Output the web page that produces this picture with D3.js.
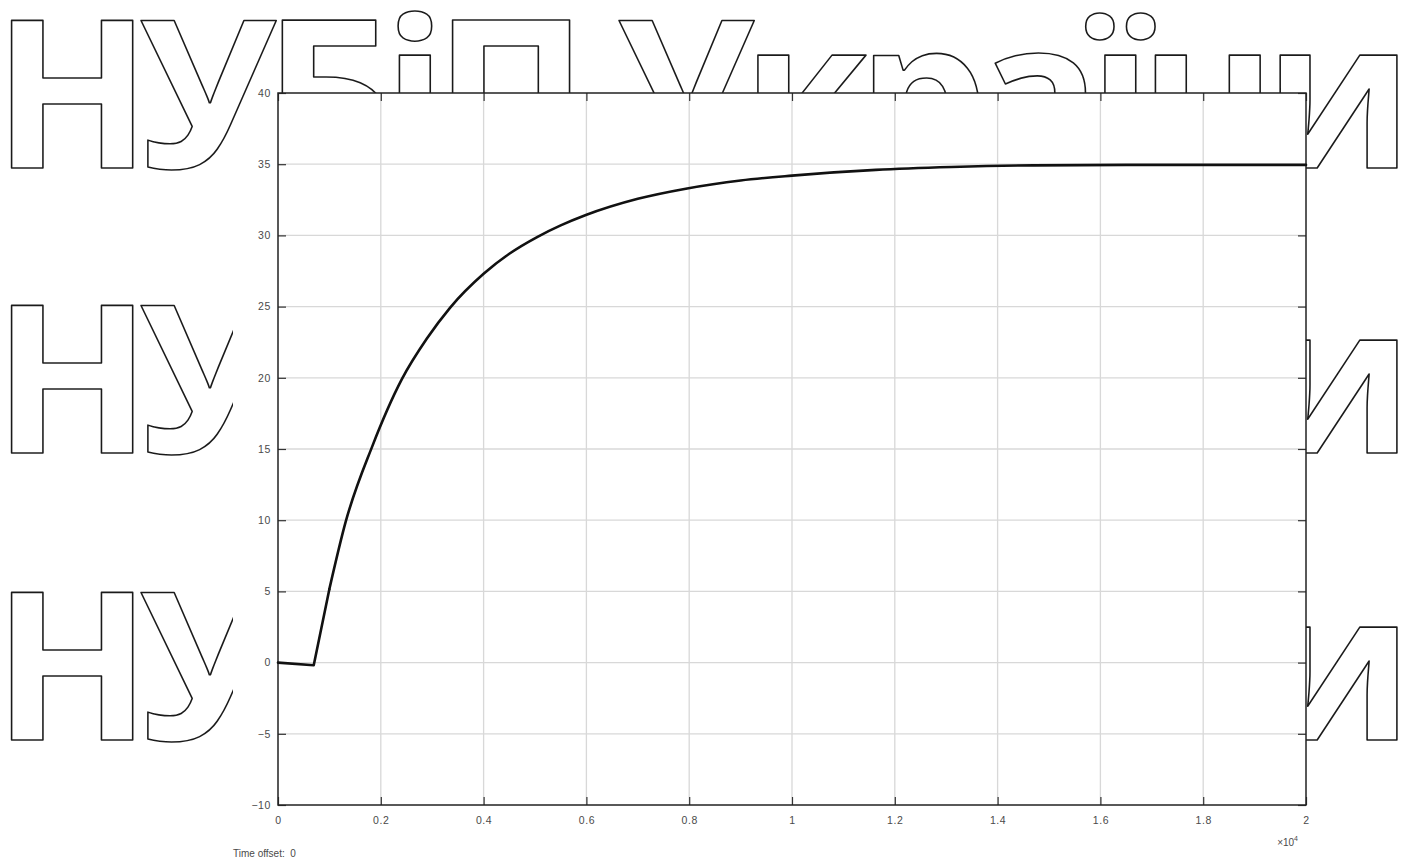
<!DOCTYPE html>
<html>
<head>
<meta charset="utf-8">
<script src="https://cdn.jsdelivr.net/npm/d3@7"></script>
<style>
  body { margin: 0; background: #fff; }
  svg { display: block; }
</style>
</head>
<body>
<div id="chart"></div>
<script>
// час, x10^4 с
const timeX = [0, 0.0695, 0.0998, 0.132, 0.183, 0.241, 0.29, 0.335, 0.4, 0.45, 0.505, 0.55, 0.599, 0.7, 0.796, 0.9, 1.0, 1.163, 1.31, 1.47, 1.65, 1.82, 2.0];
// відгук
const response = [0, -0.19, 5.14, 9.93, 15.15, 19.9, 22.77, 24.93, 27.3, 28.71, 29.9, 30.7, 31.43, 32.57, 33.3, 33.86, 34.2, 34.6, 34.8, 34.92, 34.95, 34.95, 34.95];

const xTicks = [0, 0.2, 0.4, 0.6, 0.8, 1, 1.2, 1.4, 1.6, 1.8, 2];
const yTicks = [-10, -5, 0, 5, 10, 15, 20, 25, 30, 35, 40];
const watermarkText = "НУБіП України";
const timeOffsetText = "Time offset:  0";

(() => {
  const W = 1410, H = 861;
  const box = { left: 278, right: 1306, top: 93, bottom: 805 };

  const svg = d3.select("#chart").append("svg")
    .attr("width", W).attr("height", H);

  svg.append("rect").attr("width", W).attr("height", H).attr("fill", "#fff");

  // водяний знак, 3 рядки
  const wm = svg.append("g");
  [168, 453, 740].forEach(by => {
    wm.append("text")
      .attr("x", -7)
      .attr("y", by)
      .attr("textLength", 1420)
      .attr("lengthAdjust", "spacing")
      .attr("font-family", "'Open Sans', 'Noto Sans', sans-serif")
      .attr("font-weight", 700)
      .attr("font-size", 207)
      .attr("fill", "#fff")
      .attr("stroke", "#1a1a1a")
      .attr("stroke-width", 1.6)
      .attr("stroke-linejoin", "round")
      .text(watermarkText);
  });

  // біле тло під осями
  svg.append("rect")
    .attr("x", 233).attr("y", 140)
    .attr("width", box.right - 233).attr("height", H - 140)
    .attr("fill", "#fff");

  const x = d3.scaleLinear().domain([0, 2]).range([box.left, box.right]);
  const y = d3.scaleLinear().domain([-10, 40]).range([box.bottom, box.top]);

  svg.append("rect")
    .attr("x", box.left).attr("y", box.top)
    .attr("width", box.right - box.left).attr("height", box.bottom - box.top)
    .attr("fill", "#fff");

  // сітка
  const grid = svg.append("g").attr("stroke", "#d8d8d8").attr("stroke-width", 1.3);
  grid.selectAll(".gx").data(xTicks.slice(1, -1)).join("line")
    .attr("x1", d => x(d)).attr("x2", d => x(d))
    .attr("y1", box.top).attr("y2", box.bottom);
  grid.selectAll(".gy").data(yTicks.slice(1, -1)).join("line")
    .attr("x1", box.left).attr("x2", box.right)
    .attr("y1", d => y(d)).attr("y2", d => y(d));

  const styleAxis = (s) => {
    s.select(".domain").remove();
    s.selectAll(".tick line").attr("stroke", "#333").attr("stroke-width", 1.2);
    s.selectAll("text")
      .attr("font-family", "'Liberation Sans', Arial, sans-serif")
      .attr("font-size", 10.5)
      .attr("letter-spacing", 0.6)
      .attr("fill", "#4a4a4a");
  };

  svg.append("g")
    .attr("transform", `translate(${box.left},0)`)
    .call(d3.axisLeft(y).tickValues(yTicks).tickSizeInner(-8).tickSizeOuter(0).tickPadding(7).tickFormat(d3.format("d")))
    .call(styleAxis);

  svg.append("g")
    .attr("transform", `translate(${box.right},0)`)
    .call(d3.axisRight(y).tickValues(yTicks).tickSizeInner(-8).tickSizeOuter(0).tickFormat(""))
    .call(styleAxis);

  svg.append("g")
    .attr("transform", `translate(0,${box.bottom})`)
    .call(d3.axisBottom(x).tickValues(xTicks).tickSizeInner(-8).tickSizeOuter(0).tickPadding(12).tickFormat(d => String(d)))
    .call(styleAxis);

  svg.append("g")
    .attr("transform", `translate(0,${box.top})`)
    .call(d3.axisTop(x).tickValues(xTicks).tickSizeInner(-8).tickSizeOuter(0).tickFormat(""))
    .call(styleAxis);

  // рамка
  svg.append("rect")
    .attr("x", box.left).attr("y", box.top)
    .attr("width", box.right - box.left).attr("height", box.bottom - box.top)
    .attr("fill", "none")
    .attr("stroke", "#222")
    .attr("stroke-width", 1.5);

  // крива: злам на початку прямими відрізками, далі плавно
  const data = timeX.map((t, i) => ({ t, v: response[i] }));
  const head = data.slice(0, 3);
  const tail = data.slice(2);
  const straight = d3.line().x(d => x(d.t)).y(d => y(d.v));
  const smooth = d3.line().x(d => x(d.t)).y(d => y(d.v)).curve(d3.curveMonotoneX);
  [[head, straight], [tail, smooth]].forEach(([pts, gen]) => {
    svg.append("path")
      .datum(pts)
      .attr("d", gen)
      .attr("fill", "none")
      .attr("stroke", "#111")
      .attr("stroke-width", 2.6)
      .attr("stroke-linejoin", "round")
      .attr("stroke-linecap", "round");
  });

  // x10^4
  const ex = svg.append("text")
    .attr("x", 1298).attr("y", 846)
    .attr("text-anchor", "end")
    .attr("font-family", "'Liberation Sans', Arial, sans-serif")
    .attr("font-size", 10)
    .attr("fill", "#4a4a4a");
  ex.append("tspan").text("×10");
  ex.append("tspan").attr("dy", -5).attr("font-size", 7).text("4");

  svg.append("text")
    .attr("x", 233).attr("y", 857)
    .attr("font-family", "'Liberation Sans', Arial, sans-serif")
    .attr("font-size", 10)
    .attr("fill", "#4a4a4a")
    .style("white-space", "pre")
    .text(timeOffsetText);
})();
</script>
</body>
</html>
